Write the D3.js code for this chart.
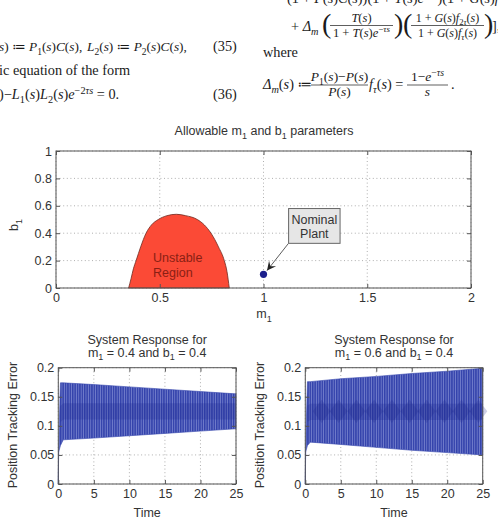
<!DOCTYPE html>
<html>
<head>
<meta charset="utf-8">
<script src="https://cdn.jsdelivr.net/npm/d3@7"></script>
<style>
  body { margin: 0; background: #fff; }
  svg { display: block; }
  text { white-space: pre; }
</style>
</head>
<body>
<script>
  // ---- data ----
  // boundary of the unstable region (m1, b1)
  var unstableM = [0.35, 0.362, 0.373, 0.386, 0.408, 0.434, 0.46, 0.493, 0.535, 0.58, 0.625, 0.681, 0.715, 0.747, 0.783, 0.811, 0.824, 0.835];
  var unstableB = [0, 0.07, 0.14, 0.2, 0.3, 0.4, 0.46, 0.5, 0.528, 0.538, 0.528, 0.5, 0.46, 0.4, 0.3, 0.2, 0.12, 0];
  var nominalM = 1, nominalB = 0.1;
  var mTicks = [0, 0.5, 1, 1.5, 2];
  var bTicks = [0, 0.2, 0.4, 0.6, 0.8, 1];

  // envelopes of the tracking error responses
  var respTime = [0, 0.05, 0.3, 0.7, 5, 10, 15, 20, 25];
  var upperA = [0, 0.065, 0.174, 0.174, 0.171, 0.167, 0.163, 0.159, 0.155];
  var lowerA = [0, 0.055, 0.066, 0.076, 0.079, 0.083, 0.087, 0.091, 0.095];
  var upperB = [0, 0.065, 0.176, 0.176, 0.181, 0.185, 0.19, 0.194, 0.199];
  var lowerB = [0, 0.055, 0.066, 0.072, 0.068, 0.063, 0.058, 0.054, 0.05];
  var beatTimesB = [2.3, 4.7, 7.2, 9.7, 12.2, 14.7, 17.1, 19.6, 22.0, 24.4];
  var timeTicks = [0, 5, 10, 15, 20, 25];
  var errTicks = [0, 0.05, 0.1, 0.15, 0.2];

  var W = 498, H = 518;
  var sans = 'Liberation Sans, Arial, Helvetica, sans-serif';
  var serif = 'Liberation Serif, DejaVu Serif, serif';
  var txt = '#333', axisCol = '#555';

  var svg = d3.select('body').append('svg').attr('width', W).attr('height', H);

  var defs = svg.append('defs');
  var pat = defs.append('pattern').attr('id', 'stripes').attr('patternUnits', 'userSpaceOnUse')
      .attr('width', 2.4).attr('height', 10);
  pat.append('rect').attr('width', 2.4).attr('height', 10).attr('fill', '#3342ab');
  pat.append('rect').attr('x', 1.5).attr('width', 0.9).attr('height', 10).attr('fill', '#7581cd');

  defs.append('marker').attr('id', 'head').attr('viewBox', '-10 -5 11 10')
      .attr('refX', 0).attr('refY', 0).attr('markerWidth', 11).attr('markerHeight', 10)
      .attr('markerUnits', 'userSpaceOnUse').attr('orient', 'auto')
    .append('path').attr('d', 'M0,0 L-9,-4.5 L-5.5,0 L-9,4.5 Z').attr('fill', '#222');

  // ---- text with sub/superscripts and math italics ----
  function rich(g, x, y, src, o) {
    o = o || {};
    var size = o.size || 14.3;
    var t = g.append('text').attr('x', x).attr('y', y)
        .attr('font-family', o.family || serif).attr('font-size', size)
        .attr('fill', o.fill || '#1a1a1a').attr('text-anchor', o.anchor || 'start');
    var runs = [], level = 0, stack = [];
    for (var i = 0; i < src.length; i++) {
      var c = src[i];
      if ((c === '_' || c === '^') && src[i + 1] === '{') { stack.push(level); level = c === '_' ? -1 : 1; i++; continue; }
      if (c === '}' && stack.length) { level = stack.pop(); continue; }
      var it = !!o.math && /[A-Za-zτΔ]/.test(c);
      var last = runs[runs.length - 1];
      if (last && last.it === it && last.level === level) last.text += c;
      else runs.push({text: c, it: it, level: level});
    }
    var cur = 0;
    runs.forEach(function(r) {
      var off = r.level === -1 ? size * 0.3 : r.level === 1 ? -size * 0.38 : 0;
      t.append('tspan').attr('dy', off - cur)
        .attr('font-size', r.level ? size * 0.72 : size)
        .attr('font-style', r.it ? 'italic' : 'normal')
        .text(r.text);
      cur = off;
    });
    return t;
  }
  function frac(g, x1, x2, barY, num, den, size) {
    var cx = (x1 + x2) / 2;
    rich(g, cx, barY - 4, num, {math: true, anchor: 'middle', size: size});
    rich(g, cx, barY + 11, den, {math: true, anchor: 'middle', size: size});
    g.append('line').attr('x1', x1).attr('x2', x2).attr('y1', barY).attr('y2', barY)
      .attr('stroke', '#1a1a1a').attr('stroke-width', 0.7);
  }
  function bigParen(g, x, y, ch) {
    g.append('text').attr('x', x).attr('y', y).attr('font-family', serif)
      .attr('font-size', 28).attr('fill', '#1a1a1a').text(ch);
  }

  // ---- page text above the figure ----
  var eq = svg.append('g');
  rich(eq, 287, 3, '(1 + P(s)C(s))(1 + T(s)e^{−τs})(1 + G(s)f_{τ}(s))[1 +', {math: true});
  rich(eq, 291, 31, '+ Δ_{m}', {math: true});
  bigParen(eq, 322, 33, '(');
  frac(eq, 330, 393, 25.5, 'T(s)', '1 + T(s)e^{−τs}', 12.5);
  bigParen(eq, 394, 33, ')');
  bigParen(eq, 403, 33, '(');
  frac(eq, 411, 484, 25.5, '1 + G(s)f_{2τ}(s)', '1 + G(s)f_{τ}(s)', 12);
  bigParen(eq, 484, 33, ')');
  rich(eq, 492, 31, '],', {math: true});

  rich(eq, -1, 51, 's) ≔ P_{1}(s)C(s),', {math: true, size: 13.3});
  rich(eq, 87, 51, 'L_{2}(s) ≔ P_{2}(s)C(s),', {math: true, size: 13.3});
  rich(eq, 213, 51, '(35)');
  rich(eq, 263, 57, 'where');
  rich(eq, -1, 75, 'ic equation of the form');
  rich(eq, -1, 99, ')−L_{1}(s)L_{2}(s)e^{−2τs} = 0.', {math: true});
  rich(eq, 213, 99, '(36)');
  rich(eq, 263, 89, 'Δ_{m}(s) ≔', {math: true});
  frac(eq, 311, 368, 85, 'P_{1}(s)−P(s)', 'P(s)', 13.5);
  rich(eq, 369, 89, 'f_{τ}(s) =', {math: true});
  frac(eq, 407, 448, 85, '1−e^{−τs}', 's', 13.5);
  rich(eq, 451, 89, '.');

  // ---- shared axis helpers ----
  function frame(g, x, y, xt, yt) {
    var x0 = x.range()[0], x1 = x.range()[1], y0 = y.range()[0], y1 = y.range()[1];
    var grid = g.append('g').attr('stroke', '#9a9a9a').attr('stroke-width', 0.8).attr('stroke-dasharray', '1,2.6');
    xt.forEach(function(v) { grid.append('line').attr('x1', x(v)).attr('x2', x(v)).attr('y1', y0).attr('y2', y1); });
    yt.forEach(function(v) { grid.append('line').attr('y1', y(v)).attr('y2', y(v)).attr('x1', x0).attr('x2', x1); });
  }
  function axes(g, x, y, xt, yt) {
    var x0 = x.range()[0], x1 = x.range()[1], y0 = y.range()[0], y1 = y.range()[1];
    var fmt = d3.format('~g');
    var ax = [
      g.append('g').attr('transform', 'translate(0,' + y0 + ')')
        .call(d3.axisBottom(x).tickValues(xt).tickFormat(fmt).tickSizeInner(-4).tickSizeOuter(0).tickPadding(5)),
      g.append('g').attr('transform', 'translate(' + x0 + ',0)')
        .call(d3.axisLeft(y).tickValues(yt).tickFormat(fmt).tickSizeInner(-4).tickSizeOuter(0).tickPadding(4)),
      g.append('g').attr('transform', 'translate(0,' + y1 + ')')
        .call(d3.axisTop(x).tickValues(xt).tickFormat('').tickSizeInner(-4).tickSizeOuter(0)),
      g.append('g').attr('transform', 'translate(' + x1 + ',0)')
        .call(d3.axisRight(y).tickValues(yt).tickFormat('').tickSizeInner(-4).tickSizeOuter(0))
    ];
    ax.forEach(function(a) {
      a.select('.domain').remove();
      a.selectAll('line').attr('stroke', axisCol);
      a.selectAll('text').attr('fill', txt).attr('font-family', sans).attr('font-size', 12.5);
    });
    g.append('rect').attr('x', x0).attr('y', y1).attr('width', x1 - x0).attr('height', y0 - y1)
      .attr('fill', 'none').attr('stroke', axisCol).attr('stroke-width', 1);
  }

  // ---- top chart: allowable parameters ----
  var paramG = svg.append('g');
  var xM = d3.scaleLinear().domain([0, 2]).range([56, 471]);
  var yB = d3.scaleLinear().domain([0, 1]).range([288, 151]);
  frame(paramG, xM, yB, mTicks, bTicks);

  var region = unstableM.map(function(m, i) { return [m, unstableB[i]]; });
  paramG.append('path')
    .attr('d', d3.line().x(function(d) { return xM(d[0]); }).y(function(d) { return yB(d[1]); })
      .curve(d3.curveMonotoneX)(region) + 'Z')
    .attr('fill', '#fb4a36').attr('stroke', '#6e2a20').attr('stroke-width', 0.8);
  paramG.append('text').attr('x', 153).attr('y', 262).attr('font-family', sans).attr('font-size', 12.5)
    .attr('fill', '#8a1f14').text('Unstable');
  paramG.append('text').attr('x', 153).attr('y', 276.5).attr('font-family', sans).attr('font-size', 12.5)
    .attr('fill', '#8a1f14').text('Region');

  axes(paramG, xM, yB, mTicks, bTicks);

  // nominal plant annotation
  var boxLo = [1.121, 0.326], boxHi = [1.369, 0.58];
  var arrowFrom = [1.12, 0.325], arrowTo = [1.017, 0.127];
  paramG.append('line')
    .attr('x1', xM(arrowFrom[0])).attr('y1', yB(arrowFrom[1]))
    .attr('x2', xM(arrowTo[0])).attr('y2', yB(arrowTo[1]))
    .attr('stroke', '#333').attr('stroke-width', 0.8).attr('marker-end', 'url(#head)');
  paramG.append('circle').attr('cx', xM(nominalM)).attr('cy', yB(nominalB)).attr('r', 3.6).attr('fill', '#1b1f8c');
  paramG.append('rect').attr('x', xM(boxLo[0])).attr('y', yB(boxHi[1]))
    .attr('width', xM(boxHi[0]) - xM(boxLo[0])).attr('height', yB(boxLo[1]) - yB(boxHi[1]))
    .attr('fill', '#e6e6e6').attr('stroke', '#666').attr('stroke-width', 1);
  var bcx = (xM(boxLo[0]) + xM(boxHi[0])) / 2;
  paramG.append('text').attr('x', bcx).attr('y', 223.5).attr('text-anchor', 'middle').attr('font-family', sans)
    .attr('font-size', 12.5).attr('fill', txt).text('Nominal');
  paramG.append('text').attr('x', bcx).attr('y', 238).attr('text-anchor', 'middle').attr('font-family', sans)
    .attr('font-size', 12.5).attr('fill', txt).text('Plant');

  rich(paramG, 264, 135, 'Allowable m_{1} and b_{1} parameters', {family: sans, size: 12.5, fill: txt, anchor: 'middle'});
  rich(paramG, 264, 318, 'm_{1}', {family: sans, size: 12.5, fill: txt, anchor: 'middle'});
  rich(paramG.append('g').attr('transform', 'translate(18,225) rotate(-90)'), 0, 0, 'b_{1}',
    {family: sans, size: 12.5, fill: txt, anchor: 'middle'});

  // ---- bottom charts: tracking error ----
  function panel(left, right, upper, lower, title2, beats) {
    var g = svg.append('g');
    var x = d3.scaleLinear().domain([0, 25]).range([left, right]);
    var y = d3.scaleLinear().domain([0, 0.2]).range([484, 367.7]);
    frame(g, x, y, timeTicks, errTicks);
    var env = respTime.map(function(t, i) { return {t: t, hi: upper[i], lo: lower[i]}; });
    g.append('path')
      .attr('d', d3.area().x(function(d) { return x(d.t); })
        .y0(function(d) { return y(d.lo); }).y1(function(d) { return y(d.hi); })(env))
      .attr('fill', 'url(#stripes)').attr('stroke', '#3444ad').attr('stroke-width', 0.6);
    // darker band around the mean of the oscillation
    var mid = env.slice(2).map(function(d) { return {t: d.t, c: (d.hi + d.lo) / 2}; });
    g.append('path')
      .attr('d', d3.area().x(function(d) { return x(d.t); })
        .y0(function(d) { return y(d.c - 0.014); }).y1(function(d) { return y(d.c + 0.014); })(mid))
      .attr('fill', '#1d2890').attr('opacity', 0.25);
    if (beats) {
      beats.forEach(function(bt) {
        var c = y(0.125), hw = x(1.25) - x(0), hh = y(0) - y(0.02);
        g.append('path')
          .attr('d', 'M' + (x(bt) - hw) + ',' + c + 'L' + x(bt) + ',' + (c - hh) + 'L' + (x(bt) + hw) + ',' + c +
            'L' + x(bt) + ',' + (c + hh) + 'Z')
          .attr('fill', '#1a258a').attr('opacity', 0.22);
      });
    }
    axes(g, x, y, timeTicks, errTicks);
    var cx = (left + right) / 2;
    rich(g, cx, 344, 'System Response for', {family: sans, size: 12.5, fill: txt, anchor: 'middle'});
    rich(g, cx, 356.5, title2, {family: sans, size: 12.5, fill: txt, anchor: 'middle'});
    rich(g, cx, 516.5, 'Time', {family: sans, size: 12.5, fill: txt, anchor: 'middle'});
    g.append('text').attr('transform', 'translate(' + (left - 41.5) + ',425) rotate(-90)')
      .attr('text-anchor', 'middle').attr('font-family', sans).attr('font-size', 12.5).attr('fill', txt)
      .text('Position Tracking Error');
  }
  panel(58.3, 236, upperA, lowerA, 'm_{1} = 0.4 and b_{1} = 0.4', null);
  panel(305.3, 482.7, upperB, lowerB, 'm_{1} = 0.6 and b_{1} = 0.4', beatTimesB);
</script>
</body>
</html>
